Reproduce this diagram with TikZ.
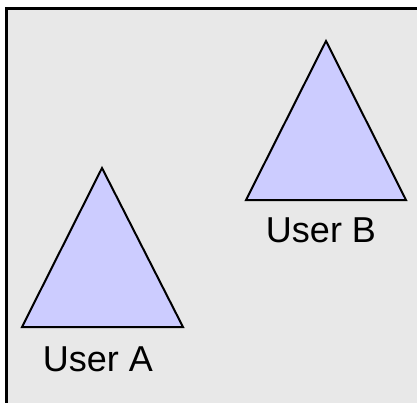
\documentclass[tikz,border=0pt]{standalone}
\usepackage{fontspec}
\setmainfont{Liberation Sans}
\usetikzlibrary{positioning}
\definecolor{usrbg}{RGB}{232,232,232}
\definecolor{usrfill}{RGB}{204,204,255}

\begin{document}
\begin{tikzpicture}[x=1pt, y=-1pt, every node/.style={font=\fontsize{36}{40}\selectfont}]
  \tikzset{
    usertri/.style={draw=black, line width=2pt, fill=usrfill, line join=miter},
    userlabel/.style={inner sep=0pt, anchor=center}
  }
  \useasboundingbox (0,0) rectangle (417,402);

  % Frame (right and bottom edges fall outside the page)
  \draw[fill=usrbg, line width=3pt] (6,8) rectangle (440,430);

  % User A
  \coordinate (aL) at (22,327);
  \coordinate (aR) at (183,327);
  \coordinate (aT) at (102,168);
  \draw[usertri] (aL) -- (aR) -- (aT) -- cycle;
  \node[userlabel] (labA) at (98,359) {User A};

  % User B
  \coordinate (bL) at (246,200);
  \coordinate (bR) at (406,200);
  \coordinate (bT) at (326,41);
  \draw[usertri] (bL) -- (bR) -- (bT) -- cycle;
  \node[userlabel] (labB) at (321,230) {User B};
\end{tikzpicture}
\end{document}
